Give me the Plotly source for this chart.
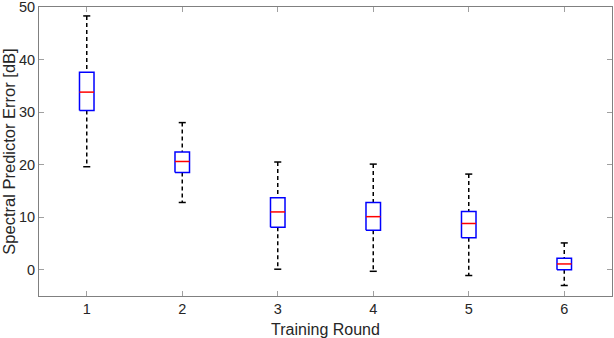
import plotly.graph_objects as go

# Box statistics per training round
rounds = [1, 2, 3, 4, 5, 6]
upper_whisker = [48.3, 28.0, 20.5, 20.1, 18.2, 5.1]
q3 = [37.6, 22.4, 13.7, 12.8, 11.1, 2.2]
median = [33.8, 20.6, 11.0, 10.1, 8.8, 1.1]
q1 = [30.3, 18.5, 8.1, 7.5, 6.1, 0.0]
lower_whisker = [19.6, 12.8, 0.1, -0.3, -1.1, -3.0]

half_box = 0.076
half_cap = 0.037

# whiskers (dashed), caps, boxes, medians built from the arrays above
wx, wy, cx, cy, bx, by, mx, my = [], [], [], [], [], [], [], []
for i, r in enumerate(rounds):
    wx += [r, r, None, r, r, None]
    wy += [upper_whisker[i], q3[i], None, q1[i], lower_whisker[i], None]
    cx += [r - half_cap, r + half_cap, None, r - half_cap, r + half_cap, None]
    cy += [upper_whisker[i], upper_whisker[i], None, lower_whisker[i], lower_whisker[i], None]
    bx += [r - half_box, r + half_box, r + half_box, r - half_box, r - half_box, None]
    by += [q1[i], q1[i], q3[i], q3[i], q1[i], None]
    mx += [r - half_box, r + half_box, None]
    my += [median[i], median[i], None]

fig = go.Figure()
fig.add_trace(go.Scatter(x=wx, y=wy, mode='lines',
                         line=dict(color='black', width=1.5, dash='4px,3px')))
fig.add_trace(go.Scatter(x=cx, y=cy, mode='lines',
                         line=dict(color='black', width=1.5)))
fig.add_trace(go.Scatter(x=bx, y=by, mode='lines',
                         line=dict(color='#0000ff', width=1.5)))
fig.add_trace(go.Scatter(x=mx, y=my, mode='lines',
                         line=dict(color='#ff0000', width=1.5)))

axis_common = dict(showline=True, linecolor='#808080', linewidth=1, mirror='ticks',
                   ticks='inside', ticklen=5, tickcolor='#a0a0a0', showgrid=False,
                   zeroline=False, automargin=False, ticklabeloverflow='allow',
                   tickfont=dict(family='Liberation Sans', size=14.5, color='#262626'))

fig.update_layout(
    width=614, height=338,
    margin=dict(l=39, r=2, t=7, b=42),
    plot_bgcolor='white', paper_bgcolor='white',
    showlegend=False,
    xaxis=dict(range=[0.5, 6.5], tickvals=rounds, ticktext=[str(r) for r in rounds],
               title=dict(text='Training Round', standoff=7,
                          font=dict(family='Liberation Sans', size=16, color='#262626')),
               **axis_common),
    yaxis=dict(range=[-5, 50], tickvals=[0, 10, 20, 30, 40, 50],
               title=dict(text='Spectral Predictor Error [dB]', standoff=2,
                          font=dict(family='Liberation Sans', size=16.5, color='#262626')),
               **axis_common),
)

# remove the default page margin so the figure sits at the window's corner
fig.write_html("out.html", config={'displayModeBar': False},
               post_script="document.body.style.margin='0';")
